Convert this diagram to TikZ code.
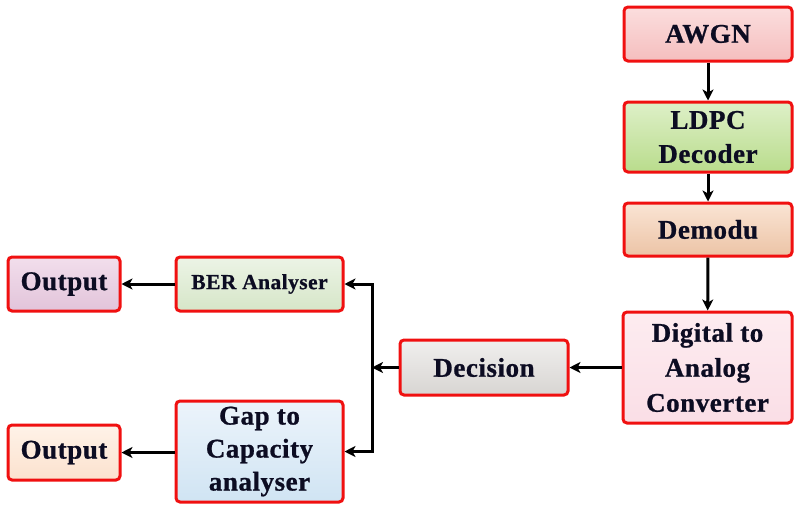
\documentclass[tikz,border=0pt]{standalone}
\usepackage{fontspec}
\setmainfont{Liberation Serif}[BoldFeatures={FakeBold=0.8,LetterSpace=2}]
\usetikzlibrary{arrows.meta}
\definecolor{txt}{HTML}{0C0C22}
\definecolor{bred}{HTML}{F01010}
\tikzset{
  blk/.style={draw=bred, line width=3pt, rounded corners=4pt, align=center,
    font=\fontsize{27}{34}\selectfont\bfseries, text=txt, inner sep=0pt},
  arr/.style={draw=black, line width=3pt, -{Stealth[length=11pt,width=11pt,inset=3pt]}},
}
\begin{document}
\begin{tikzpicture}[x=1pt,y=-1pt]
\useasboundingbox (0,0) rectangle (798,512);
\node[blk, top color={rgb,255:red,251;green,222;blue,222}, bottom color={rgb,255:red,245;green,190;blue,190}, minimum width=168pt, minimum height=54pt] (awgn) at (708,34) {AWGN};
\node[blk, top color={rgb,255:red,222;green,240;blue,200}, bottom color={rgb,255:red,185;green,220;blue,140}, minimum width=168pt, minimum height=70pt] (ldpc) at (708,137) {LDPC\\Decoder};
\node[blk, top color={rgb,255:red,250;green,228;blue,212}, bottom color={rgb,255:red,236;green,196;blue,166}, minimum width=168pt, minimum height=53pt] (dem) at (708,229.5) {Demodu};
\node[blk, top color={rgb,255:red,253;green,236;blue,240}, bottom color={rgb,255:red,250;green,222;blue,230}, minimum width=169pt, minimum height=111pt, font=\fontsize{27}{35}\selectfont\bfseries] (dac) at (707.5,367.5) {Digital to\\Analog\\Converter};
\node[blk, top color={rgb,255:red,240;green,239;blue,238}, bottom color={rgb,255:red,216;green,213;blue,210}, minimum width=168pt, minimum height=55pt] (dec) at (484,367.5) {Decision};
\node[blk, top color={rgb,255:red,236;green,244;blue,230}, bottom color={rgb,255:red,214;green,230;blue,200}, minimum width=167pt, minimum height=54pt, font=\fontsize{21.5}{26}\selectfont\bfseries] (ber) at (259.5,284) {BER Analyser};
\node[blk, top color={rgb,255:red,236;green,244;blue,251}, bottom color={rgb,255:red,208;green,228;blue,243}, minimum width=167pt, minimum height=101pt, font=\fontsize{27}{33}\selectfont\bfseries] (gap) at (259.5,451.5) {Gap to\\Capacity\\analyser};
\node[blk, top color={rgb,255:red,242;green,222;blue,236}, bottom color={rgb,255:red,226;green,196;blue,218}, minimum width=112pt, minimum height=54pt] (out1) at (64,284) {Output};
\node[blk, top color={rgb,255:red,254;green,242;blue,232}, bottom color={rgb,255:red,252;green,226;blue,206}, minimum width=112pt, minimum height=55pt] (out2) at (64,452.5) {Output};
\coordinate (bus) at (372,367.5);
\draw[arr] (awgn) -- (ldpc);
\draw[arr] (ldpc) -- (dem);
\draw[arr] (dem) -- (dac);
\draw[arr] (dac) -- (dec);
\draw[arr] (dec) -- (bus);
\draw[arr] (bus) |- (ber.east);
\draw[arr] (bus) |- (gap.east);
\draw[arr] (ber) -- (out1);
\draw[arr] (gap.west |- out2) -- (out2);
\end{tikzpicture}
\end{document}
